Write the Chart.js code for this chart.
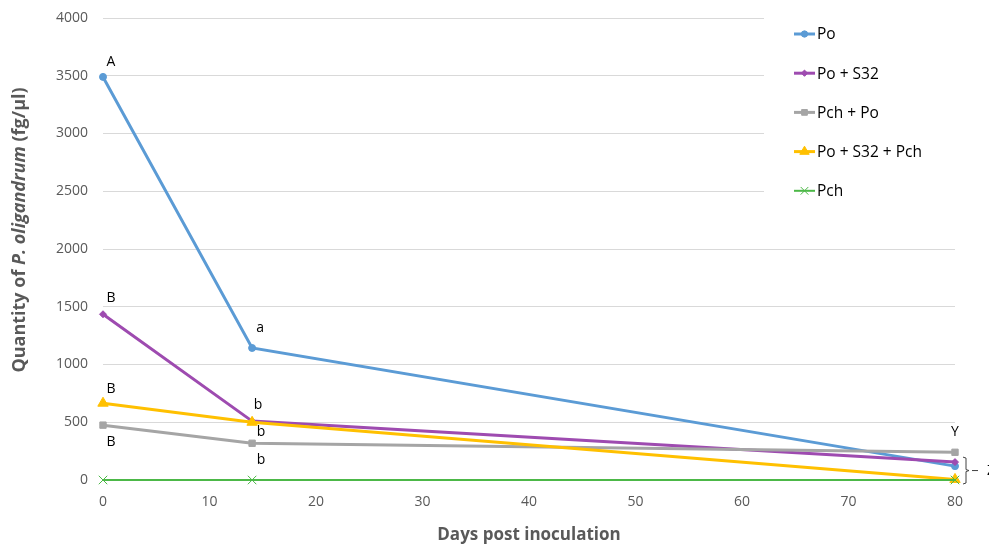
<!DOCTYPE html>
<html>
<head>
<meta charset="utf-8">
<script src="https://cdn.jsdelivr.net/npm/chart.js@4.4.1/dist/chart.umd.min.js"></script>
<style>
  html, body { margin: 0; padding: 0; background: #ffffff; }
  #wrap { width: 989px; height: 547px; position: relative; }
</style>
</head>
<body>
<div id="wrap"><canvas id="chart" width="989" height="547"></canvas></div>
<script>
// Sampling days (days post inoculation)
const days = [0, 14, 80];

// Quantity of P. oligandrum (fg/µl) per treatment
const seriesNames = ['Po', 'Po + S32', 'Pch + Po', 'Po + S32 + Pch', 'Pch'];
const po        = [3490, 1143, 120];
const poS32     = [1435, 510, 155];
const pchPo     = [475, 318, 240];
const poS32Pch  = [665, 500, 5];
const pch       = [0, 0, 0];

// Axis tick values
const yTicks = [0, 500, 1000, 1500, 2000, 2500, 3000, 3500, 4000];
const xTicks = [0, 10, 20, 30, 40, 50, 60, 70, 80];

// Significance letters: [letter, series index, day index]
const letterText   = ['A', 'B', 'B', 'B', 'a', 'b', 'b', 'b', 'Y'];
const letterSeries = [0, 1, 3, 2, 0, 1, 2, 4, 2];
const letterDay    = [0, 0, 0, 0, 1, 1, 1, 1, 2];

const colors = ['#5B9BD5', '#9E4BB0', '#A5A5A5', '#FFC000', '#4CB847'];
const pointStyles = ['circle', 'rectRot', 'rect', 'triangle', 'crossRot'];
const pointRadii = [3.5, 3.5, 4.5, 6, 6];
const lineWidths = [3, 3, 3, 3, 2];
const values = [po, poS32, pchPo, poS32Pch, pch];

const FONT = '"Open Sans", "Liberation Sans", sans-serif';
const GREY_TEXT = '#595959';

// Offsets of each letter from the point it describes
const letterOffsets = [
  [8, -15], [8, -16], [8, -14], [8, 17],
  [8, -20], [6, -16], [9, -11], [9, -20], [0, -20]
];

const datasets = seriesNames.map((name, i) => ({
  label: name,
  data: days.map((d, j) => ({ x: d, y: values[i][j] })),
  borderColor: colors[i],
  backgroundColor: colors[i],
  borderWidth: lineWidths[i],
  pointStyle: pointStyles[i],
  pointRadius: pointRadii[i],
  pointBorderWidth: 1,
  pointBorderColor: colors[i],
  pointBackgroundColor: colors[i],
  tension: 0,
  fill: false,
  clip: false
})).reverse();

// Legend panel, significance letters, bracket and axis titles
const annotations = {
  id: 'annotations',
  beforeDatasetsDraw(chart) {
    // white legend panel covers the upper right gridlines
    const ctx = chart.ctx;
    ctx.save();
    ctx.fillStyle = '#ffffff';
    ctx.fillRect(764, 0, 200, 236);
    ctx.restore();
  },
  afterDraw(chart) {
    const ctx = chart.ctx;
    const xs = chart.scales.x, ys = chart.scales.y;
    ctx.save();

    // Legend
    seriesNames.forEach((name, i) => {
      const cy = 34 + i * 39.2;
      ctx.strokeStyle = colors[i];
      ctx.lineWidth = lineWidths[i];
      ctx.beginPath();
      ctx.moveTo(794, cy);
      ctx.lineTo(815, cy);
      ctx.stroke();
      ctx.fillStyle = colors[i];
      ctx.lineWidth = 1;
      Chart.helpers.drawPoint(ctx, {
        pointStyle: pointStyles[i],
        radius: pointRadii[i] * 0.9,
        borderWidth: 1,
        rotation: 0
      }, 804.5, cy);
      ctx.fillStyle = '#000000';
      ctx.font = '15.5px ' + FONT;
      ctx.textAlign = 'left';
      ctx.textBaseline = 'middle';
      ctx.fillText(name, 817, cy + 1);
    });

    // Significance letters
    ctx.fillStyle = '#000000';
    ctx.font = '14px ' + FONT;
    ctx.textAlign = 'center';
    ctx.textBaseline = 'middle';
    letterText.forEach((t, k) => {
      const s = letterSeries[k], d = letterDay[k];
      const px = xs.getPixelForValue(days[d]) + letterOffsets[k][0];
      const py = ys.getPixelForValue(values[s][d]) + letterOffsets[k][1];
      ctx.fillText(t, px, py);
    });

    // Bracket grouping the day-80 values
    const bx = xs.getPixelForValue(80) + 8;
    const top = ys.getPixelForValue(poS32[2]) - 5;
    const bot = ys.getPixelForValue(0) + 4;
    const mid = (top + bot) / 2;
    ctx.strokeStyle = '#404040';
    ctx.lineWidth = 1;
    ctx.beginPath();
    ctx.moveTo(bx, top);
    ctx.lineTo(bx + 3, top + 1);
    ctx.lineTo(bx + 3, mid - 1);
    ctx.lineTo(bx + 6, mid);
    ctx.lineTo(bx + 3, mid + 1);
    ctx.lineTo(bx + 3, bot - 1);
    ctx.lineTo(bx, bot);
    ctx.stroke();
    ctx.beginPath();
    ctx.moveTo(bx + 9, mid);
    ctx.lineTo(bx + 15, mid);
    ctx.stroke();
    ctx.fillStyle = '#000000';
    ctx.textAlign = 'left';
    ctx.fillText('Z', bx + 24, mid);

    // Axis titles
    ctx.fillStyle = GREY_TEXT;
    ctx.textAlign = 'center';
    ctx.textBaseline = 'middle';
    ctx.font = 'bold 17px ' + FONT;
    ctx.fillText('Days post inoculation', (xs.left + xs.right) / 2, 535);

    const parts = [
      ['Quantity of ', 'bold 18px ' + FONT],
      ['P. oligandrum', 'italic bold 18px ' + FONT],
      [' (fg/µl)', 'bold 18px ' + FONT]
    ];
    let total = 0;
    parts.forEach(p => { ctx.font = p[1]; total += ctx.measureText(p[0]).width; });
    ctx.translate(20, 230);
    ctx.rotate(-Math.PI / 2);
    ctx.textAlign = 'left';
    let x = -total / 2;
    parts.forEach(p => {
      ctx.font = p[1];
      ctx.fillText(p[0], x, 0);
      x += ctx.measureText(p[0]).width;
    });
    ctx.restore();
  }
};

new Chart(document.getElementById('chart'), {
  type: 'line',
  data: { datasets },
  plugins: [annotations],
  options: {
    responsive: false,
    animation: false,
    layout: { padding: { left: 0, right: 34, top: 18, bottom: 0 } },
    plugins: { legend: { display: false }, tooltip: { enabled: false } },
    scales: {
      x: {
        type: 'linear',
        min: xTicks[0],
        max: xTicks[xTicks.length - 1],
        afterBuildTicks(scale) { scale.ticks = xTicks.map(v => ({ value: v })); },
        grid: { display: false, drawTicks: false },
        border: { display: false },
        ticks: { color: GREY_TEXT, font: { family: FONT, size: 14 }, padding: 14, callback: v => String(v) },
        afterFit(scale) { scale.height = 67; scale.paddingLeft = 0; scale.paddingRight = 0; }
      },
      y: {
        min: yTicks[0],
        max: yTicks[yTicks.length - 1],
        afterBuildTicks(scale) { scale.ticks = yTicks.map(v => ({ value: v })); },
        grid: { color: '#D9D9D9', lineWidth: 1, drawTicks: false },
        border: { display: false },
        ticks: { color: GREY_TEXT, font: { family: FONT, size: 14 }, padding: 15, callback: v => String(v) },
        afterFit(scale) { scale.width = 103; scale.paddingTop = 0; scale.paddingBottom = 0; }
      }
    }
  }
});
</script>
</body>
</html>
